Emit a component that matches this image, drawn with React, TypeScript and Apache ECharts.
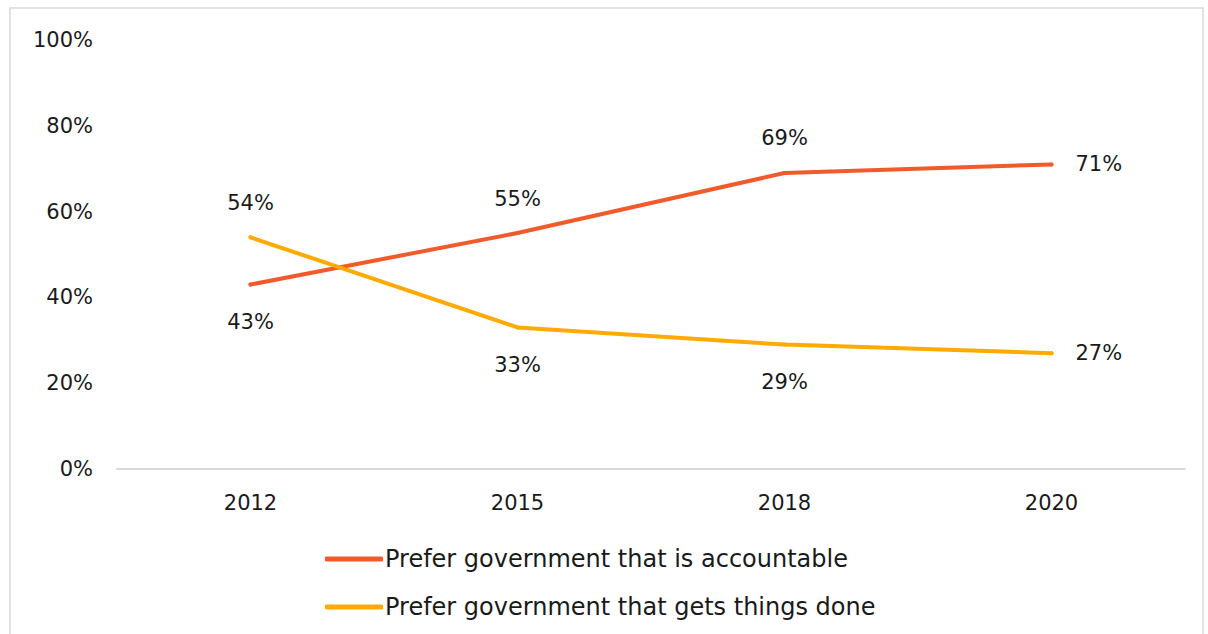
import React, { useEffect, useRef } from "react";
import * as echarts from "echarts";

const years = ["2012", "2015", "2018", "2020"];
const accountable = [43, 55, 69, 71];
const getsDone = [54, 33, 29, 27];
const accountablePos = ["bottom", "top", "top", "right"];
const getsDonePos = ["top", "bottom", "bottom", "right"];
const seriesNames = ["Prefer government that is accountable", "Prefer government that gets things done"];

const FONT = "DejaVu Sans";
const ACC = "#F15A2B";
const DONE = "#FFAA00";
const LABEL_DISTANCE: Record<string, number> = { right: 22, top: 22, bottom: 25 };

export default function App() {
  const ref = useRef<HTMLDivElement>(null);
  useEffect(() => {
    document.body.style.margin = "0";
    const chart = echarts.init(ref.current!, undefined, { renderer: "svg" });
    const mk = (vals: number[], pos: string[]) =>
      vals.map((v, i) => ({
        value: v,
        label: { position: pos[i], distance: LABEL_DISTANCE[pos[i]] },
      }));
    const lbl = { show: true, formatter: "{c}%", color: "#1a1a1a", fontSize: 21, fontFamily: FONT };
    chart.setOption({
      animation: false,
      textStyle: { fontFamily: FONT },
      graphic: [
        {
          type: "rect",
          shape: { x: 10, y: 8, width: 1193, height: 700 },
          style: { fill: "none", stroke: "#d9d9d9", lineWidth: 1.5 },
          silent: true,
        },
      ],
      grid: { left: 117, right: 23, top: 40, bottom: 165 },
      xAxis: {
        type: "category",
        data: years,
        boundaryGap: true,
        axisLine: { lineStyle: { color: "#d9d9d9", width: 2 } },
        axisTick: { show: false },
        axisLabel: { color: "#1a1a1a", fontSize: 21, fontFamily: FONT, margin: 23 },
      },
      yAxis: {
        type: "value",
        min: 0,
        max: 100,
        interval: 20,
        axisLine: { show: false },
        axisTick: { show: false },
        splitLine: { show: false },
        axisLabel: { color: "#1a1a1a", fontSize: 21, fontFamily: FONT, margin: 24, formatter: "{value}%" },
      },
      legend: {
        orient: "vertical",
        left: 320,
        top: 541,
        itemWidth: 58,
        itemHeight: 5,
        itemGap: 22,
        textStyle: { color: "#1a1a1a", fontSize: 24, lineHeight: 26, fontFamily: FONT, padding: [0, 0, 0, -3] },
        data: [
          { name: seriesNames[0], icon: "roundRect", itemStyle: { color: ACC } },
          { name: seriesNames[1], icon: "roundRect", itemStyle: { color: DONE } },
        ],
      },
      series: [
        {
          name: seriesNames[0],
          type: "line",
          data: mk(accountable, accountablePos),
          symbol: "circle",
          symbolSize: 4,
          lineStyle: { color: ACC, width: 4, cap: "round" },
          itemStyle: { color: ACC },
          label: lbl,
        },
        {
          name: seriesNames[1],
          type: "line",
          data: mk(getsDone, getsDonePos),
          symbol: "circle",
          symbolSize: 4,
          lineStyle: { color: DONE, width: 4, cap: "round" },
          itemStyle: { color: DONE },
          label: lbl,
        },
      ],
    });
    return () => chart.dispose();
  }, []);
  return <div ref={ref} style={{ width: 1208, height: 634 }} />;
}
